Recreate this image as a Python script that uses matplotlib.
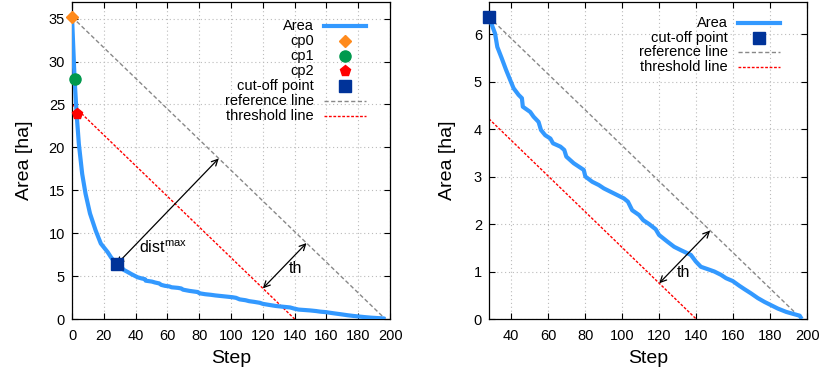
import numpy as np
import matplotlib
matplotlib.use("Agg")
import matplotlib.pyplot as plt

plt.rcParams['font.family'] = ['Liberation Sans', 'DejaVu Sans']
plt.rcParams['mathtext.fontset'] = 'custom'
plt.rcParams['mathtext.rm'] = 'Liberation Sans'

# area curve (step, area in ha)
steps = [0, 1.6, 2.9, 4.3, 6.4, 8.5, 11.3, 14.9, 18.1, 22.4, 24.5, 28,
         31.3, 32.5, 34.9, 37.3, 39.5, 41.3, 44, 45.8, 46.3, 50.3, 52.1,
         54.8, 56.1, 58.4, 61.2, 62.6, 66.6, 68.7, 69.8, 73.8, 76.5, 79.2,
         80.1, 83.8, 87.4, 90.1, 93.7, 97.3, 100.9, 103.1, 105.4, 109.1,
         111.4, 114.5, 118.1, 119.9, 124.4, 128.1, 131.7, 137.1, 139.8,
         142.5, 146.2, 149.8, 153.4, 156.1, 159.7, 163.3, 166, 169.6, 173.3,
         176.9, 180.5, 184.1, 188.6, 192.2, 195.9, 197]
area = [35.2, 28.0, 23.9, 20.4, 16.9, 14.6, 12.3, 10.3, 8.8, 7.8, 7.2, 6.36,
        6.01, 5.73, 5.49, 5.24, 5.03, 4.86, 4.72, 4.65, 4.47, 4.36, 4.26,
        4.15, 3.98, 3.87, 3.80, 3.70, 3.63, 3.56, 3.42, 3.28, 3.21, 3.14,
        3.0, 2.89, 2.82, 2.75, 2.68, 2.61, 2.54, 2.47, 2.29, 2.19, 2.08,
        2.0, 1.89, 1.77, 1.63, 1.52, 1.45, 1.35, 1.21, 1.10, 1.05, 1.0,
        0.93, 0.86, 0.80, 0.70, 0.63, 0.54, 0.44, 0.36, 0.29, 0.22, 0.15,
        0.11, 0.07, 0.0]

cp_idx = [0, 1, 2]        # cp0, cp1, cp2
cut_idx = 11              # cut-off point
thr_zero = 140            # step where the threshold line reaches 0
th_start = 120            # step where the th arrow leaves the threshold line

BLUE = '#3399ff'
NAVY = '#003399'
cp_styles = [('cp0', 'D', '#ff8a1c', 6.5), ('cp1', 'o', '#00994d', 8),
             ('cp2', 'p', '#ff0000', 8)]

steps = np.array(steps)
area = np.array(area)

fig = plt.figure(figsize=(8.24, 3.74), dpi=100)
ax1 = fig.add_axes([0.0874, 0.147, 0.386, 0.848])
ax2 = fig.add_axes([0.5934, 0.147, 0.3863, 0.848])


def style_axes(ax):
    ax.grid(True, linestyle=(0, (1, 2.5)), color='#bbbbbb', linewidth=0.8)
    ax.tick_params(direction='in', top=True, right=True, length=4,
                   width=0.8, labelsize=10.5, pad=5)
    ax.tick_params(axis='x', pad=7)
    for s in ax.spines.values():
        s.set_linewidth(0.9)
    ax.set_xlabel('Step', fontsize=14, labelpad=5)
    ax.set_ylabel('Area [ha]', fontsize=14, labelpad=13)


def foot(ax, p, a, b):
    # perpendicular foot of p on line a-b, measured on screen
    t = ax.transData
    P, A, B = t.transform([p, a, b])
    d = B - A
    F = A + d * np.dot(P - A, d) / np.dot(d, d)
    return t.inverted().transform(F)


def arrow(ax, p, q):
    ax.annotate('', xy=q, xytext=p,
                arrowprops=dict(arrowstyle='<->', lw=0.9, color='black',
                                shrinkA=0, shrinkB=0, mutation_scale=11))


def legend(ax, rows, x_txt, x0, x1, y_top, dy):
    for i, (label, kind, kw) in enumerate(rows):
        y = y_top - i * dy
        ax.text(x_txt, y, label, transform=ax.transAxes, ha='right',
                va='center', fontsize=10.5)
        if kind == 'line':
            ax.plot([x0, x1], [y, y], transform=ax.transAxes, clip_on=False,
                    **kw)
        else:
            ax.plot([(x0 + x1) / 2], [y], transform=ax.transAxes,
                    clip_on=False, linestyle='none', **kw)


ref_kw = dict(color='#888888', lw=1.0, dashes=(3, 1.8))
thr_kw = dict(color='#ff0000', lw=1.0, dashes=(2, 1.2))

# ---- left: whole curve ----
ax1.set_xlim(0, 200)
ax1.set_ylim(0, area[0] * 1.05)
ax1.set_xticks(range(0, 201, 20))
ax1.set_yticks(range(0, 36, 5))
style_axes(ax1)
ax1.yaxis.labelpad = 11

x0, y0, xe = steps[0], area[0], steps[-1]
slope = (area[-1] - y0) / (xe - x0)
ax1.plot([x0, xe], [y0, area[-1]], **ref_kw)
ax1.plot([x0, thr_zero], [slope * (x0 - thr_zero), 0], **thr_kw)
ax1.plot(steps, area, color=BLUE, lw=3, solid_capstyle='butt', zorder=3)
for i, (name, m, c, s) in zip(cp_idx, cp_styles):
    ax1.plot(steps[i], area[i], marker=m, color=c, ms=s, linestyle='none',
             clip_on=False, zorder=4)
ax1.plot(steps[cut_idx], area[cut_idx], marker='s', color=NAVY, ms=8,
         linestyle='none', zorder=4)

cut = (steps[cut_idx], area[cut_idx])
arrow(ax1, cut, foot(ax1, cut, (x0, y0), (xe, area[-1])))
p = (th_start, slope * (th_start - thr_zero))
arrow(ax1, p, foot(ax1, p, (x0, y0), (xe, area[-1])))
ax1.text(42, 7.7, r'dist$^{\mathrm{max}}$', fontsize=11.5, va='baseline')
ax1.text(136, 5.4, 'th', fontsize=11.5, va='baseline')

legend(ax1, [('Area', 'line', dict(color=BLUE, lw=3))] +
       [(n, 'mark', dict(marker=m, color=c, ms=s)) for n, m, c, s in cp_styles] +
       [('cut-off point', 'mark', dict(marker='s', color=NAVY, ms=8)),
        ('reference line', 'line', ref_kw),
        ('threshold line', 'line', thr_kw)],
       0.761, 0.792, 0.925, 0.924, 0.0473)

# ---- right: curve after the cut-off point ----
s2, a2 = steps[cut_idx:], area[cut_idx:]
ax2.set_xlim(s2[0], 200)
ax2.set_ylim(0, a2[0] * 1.05)
ax2.set_xticks(range(40, 201, 20))
ax2.set_yticks(range(0, 7))
style_axes(ax2)

x0, y0 = s2[0], a2[0]
slope = (a2[-1] - y0) / (xe - x0)
ax2.plot([x0, xe], [y0, a2[-1]], **ref_kw)
ax2.plot([x0, thr_zero], [slope * (x0 - thr_zero), 0], **thr_kw)
ax2.plot(s2, a2, color=BLUE, lw=3, solid_capstyle='butt', zorder=3)
ax2.plot(x0, y0, marker='s', color=NAVY, ms=8, linestyle='none',
         clip_on=False, zorder=4)

p = (th_start, slope * (th_start - thr_zero))
arrow(ax2, p, foot(ax2, p, (x0, y0), (xe, a2[-1])))
ax2.text(129.5, 0.89, 'th', fontsize=11.5, va='baseline')

legend(ax2, [('Area', 'line', dict(color=BLUE, lw=3)),
             ('cut-off point', 'mark', dict(marker='s', color=NAVY, ms=8)),
             ('reference line', 'line', ref_kw),
             ('threshold line', 'line', thr_kw)],
       0.750, 0.783, 0.914, 0.933, 0.046)

fig.savefig('out.png', dpi=100)
